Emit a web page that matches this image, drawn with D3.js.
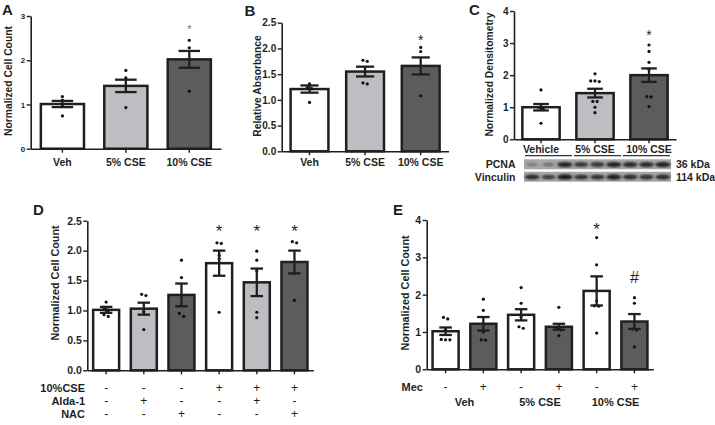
<!DOCTYPE html>
<html><head><meta charset="utf-8">
<script src="https://cdn.jsdelivr.net/npm/d3@7"></script>
<style>body{margin:0;background:#fff}svg{display:block}text{font-family:"Liberation Sans",Arial,sans-serif}</style>
</head><body><svg id="c" width="715" height="425"></svg>
<script>
// ---------- DATA ----------
// Panel A
const aCats = ["Veh", "5% CSE", "10% CSE"];
const aMeans = [1.01, 1.42, 2.02];
const aSems = [0.07, 0.14, 0.19];
const aPoints = [[1.18, 1.10, 0.99, 0.74], [1.77, 1.60, 0.93], [2.45, 2.28, 1.30]];
const aMarks = ["", "", "*"];
const aMarkLevels = [null, null, 2.77];
const aTicks = [0, 1, 2, 3];
// Panel B
const bCats = ["Veh", "5% CSE", "10% CSE"];
const bMeans = [1.21, 1.55, 1.66];
const bSems = [0.07, 0.095, 0.165];
const bPoints = [[1.31, 1.24, 1.22, 0.95], [1.77, 1.75, 1.33, 1.31], [2.02, 1.94, 1.08]];
const bMarks = ["", "", "*"];
const bMarkLevels = [null, null, 2.23];
const bTicks = [0, 0.5, 1, 1.5, 2, 2.5];
// Panel C
const cCats = ["Vehicle", "5% CSE", "10% CSE"];
const cMeans = [1.00, 1.44, 2.00];
const cSems = [0.10, 0.135, 0.21];
const cPoints = [[1.54, 1.00, 0.96, 0.50], [2.04, 1.82, 1.82, 1.80, 1.18, 1.18, 1.00, 0.83], [2.94, 2.74, 2.40, 2.18, 1.33, 1.32, 1.02]];
const cMarks = ["", "", "*"];
const cMarkLevels = [null, null, 3.34];
const cTicks = [0, 1, 2, 3, 4];
const blotRows = ["PCNA", "Vinculin"];
const blotSizes = ["36 kDa", "114 kDa"];
const pcnaBands = [0.30, 0.38, 0.90, 0.78, 0.78, 0.92, 0.85, 0.85, 0.92];
const vinculinBands = [0.85, 0.72, 0.95, 0.80, 0.80, 0.90, 0.86, 0.80, 0.86];
// Panel D
const dMeans = [1.01, 1.03, 1.26, 1.79, 1.47, 1.81];
const dSems = [0.05, 0.10, 0.19, 0.21, 0.23, 0.19];
const dPoints = [[1.14, 1.05, 1.00, 0.93, 0.90], [1.27, 1.25, 0.98, 0.68], [1.84, 1.55, 0.95, 0.90], [2.13, 2.12, 1.92, 1.86, 0.97], [1.99, 1.84, 1.66, 0.97, 0.88], [2.15, 2.13, 1.62, 1.17]];
const dMarks = ["", "", "", "*", "*", "*"];
const dMarkLevels = [null, null, null, 2.40, 2.40, 2.40];
const dTicks = [0, 0.5, 1, 1.5, 2, 2.5];
const dRowLabels = ["10%CSE", "Alda-1", "NAC"];
const dCSE = ["-", "-", "-", "+", "+", "+"];
const dAlda = ["-", "+", "-", "-", "+", "-"];
const dNAC = ["-", "-", "+", "-", "-", "+"];
// Panel E
const eMeans = [1.02, 1.22, 1.46, 1.14, 2.10, 1.28];
const eSems = [0.10, 0.18, 0.15, 0.08, 0.39, 0.20];
const ePoints = [[1.39, 1.35, 1.05, 0.80, 0.79, 0.79], [1.88, 1.58, 1.00, 0.79, 0.78], [2.19, 1.77, 1.40, 1.14, 1.10], [1.66, 1.12, 1.05, 0.90], [3.53, 2.80, 1.83, 1.70, 1.69, 0.97], [1.92, 1.77, 1.08, 1.05, 0.60]];
const eMarks = ["", "", "", "", "*", "#"];
const eMarkLevels = [null, null, null, null, 3.87, 2.48];
const eTicks = [0, 1, 2, 3, 4];
const eMec = ["-", "+", "-", "+", "-", "+"];
const eGroups = ["Veh", "5% CSE", "10% CSE"];

// ---------- STYLE ----------
const INK = "#1f1f1f";
const WHITE = "#ffffff", LIGHT = "#bdbec2", DARK = "#5c5c5c";
const FONT = '"Liberation Sans", Arial, sans-serif';
const svg = d3.select("#c");

function clusterJitter(vals, y, cx, step) {
  const pts = vals.map(v => ({ v, py: y(v) })).sort((a, b) => a.py - b.py);
  const clusters = [];
  pts.forEach(p => {
    const last = clusters[clusters.length - 1];
    if (last && p.py - last[last.length - 1].py < 3.2) last.push(p); else clusters.push([p]);
  });
  const out = [];
  clusters.forEach(c => c.forEach((p, i) => out.push([cx + (i - (c.length - 1) / 2) * step, p.py])));
  return out;
}

function drawPanel(o) {
  const g = svg.append("g");
  const n = o.means.length;
  const y = d3.scaleLinear().domain(o.yDomain).range([o.yBottom, o.yTop]);
  const x = d3.scaleBand().domain(d3.range(n)).range([o.xLeft, o.xRight]).paddingInner(o.pad).paddingOuter(o.pad / 2);
  // y axis
  const ya = g.append("g").attr("transform", `translate(${o.xLeft},0)`)
    .call(d3.axisLeft(y).tickValues(o.ticks).tickFormat(o.fmt).tickSize(4).tickSizeOuter(0).tickPadding(1.5));
  ya.attr("font-family", FONT).attr("font-size", o.tickFs);
  ya.select(".domain").attr("stroke", INK).attr("stroke-width", 1.6);
  ya.selectAll(".tick line").attr("stroke", INK).attr("stroke-width", 1.4);
  ya.selectAll(".tick text").attr("fill", INK).attr("font-weight", "bold");
  // x axis
  const xa = g.append("g").attr("transform", `translate(0,${o.yBottom})`)
    .call(d3.axisBottom(x).tickSize(4).tickSizeOuter(0).tickFormat(""));
  xa.select(".domain").attr("stroke", INK).attr("stroke-width", 1.6);
  xa.selectAll(".tick line").attr("stroke", INK).attr("stroke-width", 1.4);
  // bars
  const bw = x.bandwidth();
  g.selectAll("rect.bar").data(o.means).join("rect").attr("class", "bar")
    .attr("x", (d, i) => x(i)).attr("width", bw)
    .attr("y", d => y(d)).attr("height", d => y(0) - y(d))
    .attr("fill", (d, i) => o.fills[i]).attr("stroke", INK).attr("stroke-width", 2.5);
  // points
  o.points.forEach((arr, i) => {
    const cx = x(i) + bw / 2;
    g.selectAll(null).data(clusterJitter(arr, y, cx, 4.3)).join("circle")
      .attr("cx", d => d[0]).attr("cy", d => d[1]).attr("r", 1.6).attr("fill", "#111");
  });
  // error bars
  const cap = bw * o.capFrac / 2;
  o.means.forEach((m, i) => {
    const cx = x(i) + bw / 2, s = o.sems[i];
    const eg = g.append("g").attr("stroke", INK).attr("stroke-width", 2.3);
    eg.append("line").attr("x1", cx).attr("x2", cx).attr("y1", y(m - s)).attr("y2", y(m + s));
    eg.append("line").attr("x1", cx - cap).attr("x2", cx + cap).attr("y1", y(m + s)).attr("y2", y(m + s));
    eg.append("line").attr("x1", cx - cap).attr("x2", cx + cap).attr("y1", y(m - s)).attr("y2", y(m - s));
  });
  // significance marks
  o.marks.forEach((mk, i) => {
    if (!mk) return;
    const fs = mk === "#" ? o.markFs * 0.95 : o.markFs;
    const off = mk === "#" ? 0.36 : 0.58;
    g.append("text").attr("x", x(i) + bw / 2).attr("y", y(o.markLevels[i]) + off * fs)
      .attr("text-anchor", "middle").attr("font-size", fs).attr("fill", o.markColor || INK).text(mk);
  });
  // category labels
  if (o.cats) {
    g.selectAll(null).data(o.cats).join("text")
      .attr("x", (d, i) => x(i) + bw / 2).attr("y", o.catY)
      .attr("text-anchor", "middle").attr("font-size", 10.5).attr("font-weight", "bold").attr("fill", INK).text(d => d);
  }
  // y title
  g.append("text").attr("transform", `translate(${o.titleX},${o.titleY}) rotate(-90)`)
    .attr("text-anchor", "middle").attr("dominant-baseline", "central")
    .attr("font-size", o.titleFs).attr("font-weight", "bold").attr("fill", INK).text(o.title);
  // panel letter
  g.append("text").attr("x", o.letterX).attr("y", o.letterY)
    .attr("font-size", 15).attr("font-weight", "bold").attr("fill", INK).text(o.letter);
  return { g, x, y, bw };
}

// Panel A
drawPanel({ means: aMeans, sems: aSems, points: aPoints, marks: aMarks, markLevels: aMarkLevels, cats: aCats,
  fills: [WHITE, LIGHT, DARK], yDomain: [0, 3], ticks: aTicks, fmt: d3.format("d"), tickFs: 8,
  xLeft: 30.7, xRight: 221, yBottom: 148.7, yTop: 16, pad: 0.32, capFrac: 0.5, catY: 166,
  markFs: 11, markColor: "#777", title: "Normalized Cell Count", titleX: 8.5, titleY: 81, titleFs: 10.3,
  letter: "A", letterX: 2, letterY: 15 });

// Panel B
drawPanel({ means: bMeans, sems: bSems, points: bPoints, marks: bMarks, markLevels: bMarkLevels, cats: bCats,
  fills: [WHITE, LIGHT, DARK], yDomain: [0, 2.5], ticks: bTicks, fmt: d3.format(".1f"), tickFs: 10,
  xLeft: 281.7, xRight: 448.5, yBottom: 151.3, yTop: 22.7, pad: 0.32, capFrac: 0.48, catY: 166,
  markFs: 14, title: "Relative Absorbance", titleX: 257, titleY: 86, titleFs: 10.3,
  letter: "B", letterX: 244.5, letterY: 15.5 });

// Panel C
const pc = drawPanel({ means: cMeans, sems: cSems, points: cPoints, marks: cMarks, markLevels: cMarkLevels, cats: cCats,
  fills: [WHITE, LIGHT, DARK], yDomain: [0, 4], ticks: cTicks, fmt: d3.format("d"), tickFs: 10,
  xLeft: 514, xRight: 676, yBottom: 139.3, yTop: 11, pad: 0.31, capFrac: 0.42, catY: 153.3,
  markFs: 14, title: "Normalized Densitometry", titleX: 489.5, titleY: 74.5, titleFs: 10.3,
  letter: "C", letterX: 469, letterY: 15 });

// Western blot for C
(function () {
  const g = svg.append("g");
  const lanes = d3.scaleBand().domain(d3.range(pcnaBands.length)).range([524, 671]).paddingInner(0.08).paddingOuter(0.04);
  const groups = d3.scaleBand().domain(d3.range(cCats.length)).range([524, 671]);
  const rows = d3.scaleBand().domain(blotRows).range([159.3, 181.7]).paddingInner(0.2);
  const defs = svg.append("defs");
  defs.append("filter").attr("id", "blur").append("feGaussianBlur").attr("stdDeviation", 0.8);
  const shade = d3.interpolateRgb("#a9a9a9", "#141414");
  [pcnaBands, vinculinBands].forEach((vals, r) => {
    const name = blotRows[r];
    const ry = rows(name), rh = rows.bandwidth();
    g.append("rect").attr("x", 524).attr("y", ry).attr("width", 147).attr("height", rh).attr("fill", "#a6a6a6");
    g.selectAll(null).data(vals).join("ellipse")
      .attr("cx", (d, i) => lanes(i) + lanes.bandwidth() / 2).attr("cy", ry + rh / 2 + 0.3)
      .attr("rx", d => lanes.bandwidth() / 2 * (0.6 + 0.45 * d)).attr("ry", d => 1.3 + 1.5 * d)
      .attr("fill", d => shade(d)).attr("filter", "url(#blur)");
    g.append("text").attr("x", 515.5).attr("y", ry + rh / 2).attr("dy", "0.36em").attr("text-anchor", "end")
      .attr("font-size", 10.5).attr("font-weight", "bold").attr("fill", INK).text(name);
    g.append("text").attr("x", 676).attr("y", ry + rh / 2).attr("dy", "0.36em")
      .attr("font-size", 10.5).attr("font-weight", "bold").attr("fill", INK).text(blotSizes[r]);
  });
  // underlines under group labels
  g.selectAll(null).data(cCats).join("line")
    .attr("x1", (d, i) => groups(i) + 1).attr("x2", (d, i) => groups(i) + groups.bandwidth() - 1)
    .attr("y1", 155.7).attr("y2", 155.7).attr("stroke", "#333").attr("stroke-width", 1.2);
})();

// Panel D
const pd = drawPanel({ means: dMeans, sems: dSems, points: dPoints, marks: dMarks, markLevels: dMarkLevels,
  fills: [WHITE, LIGHT, DARK, WHITE, LIGHT, DARK], yDomain: [0, 2.5], ticks: dTicks, fmt: d3.format(".1f"), tickFs: 10.5,
  xLeft: 87.3, xRight: 313.3, yBottom: 370.3, yTop: 220.7, pad: 0.31, capFrac: 0.48,
  markFs: 17, title: "Normalized Cell Count", titleX: 55, titleY: 283, titleFs: 10.8,
  letter: "D", letterX: 33, letterY: 215 });
[dCSE, dAlda, dNAC].forEach((row, r) => {
  const by = 392 + r * 12.9;
  svg.append("text").attr("x", 85).attr("y", by).attr("text-anchor", "end")
    .attr("font-size", 11).attr("font-weight", "bold").attr("fill", INK).text(dRowLabels[r]);
  svg.selectAll(null).data(row).join("text")
    .attr("x", (d, i) => pd.x(i) + pd.bw / 2).attr("y", by).attr("text-anchor", "middle")
    .attr("font-size", 12).attr("fill", INK).text(d => d);
});

// Panel E
const pe = drawPanel({ means: eMeans, sems: eSems, points: ePoints, marks: eMarks, markLevels: eMarkLevels,
  fills: [WHITE, DARK, WHITE, DARK, WHITE, DARK], yDomain: [0, 4], ticks: eTicks, fmt: d3.format("d"), tickFs: 10.5,
  xLeft: 426.7, xRight: 653.3, yBottom: 369.3, yTop: 220, pad: 0.31, capFrac: 0.48,
  markFs: 17, title: "Normalized Cell Count", titleX: 405, titleY: 293, titleFs: 10.8,
  letter: "E", letterX: 393, letterY: 214.5 });
svg.append("text").attr("x", 423).attr("y", 391).attr("text-anchor", "end")
  .attr("font-size", 11).attr("font-weight", "bold").attr("fill", INK).text("Mec");
svg.selectAll(null).data(eMec).join("text")
  .attr("x", (d, i) => pe.x(i) + pe.bw / 2).attr("y", 391).attr("text-anchor", "middle")
  .attr("font-size", 12).attr("fill", INK).text(d => d);
svg.selectAll(null).data(eGroups).join("text")
  .attr("x", (d, i) => (pe.x(2 * i) + pe.x(2 * i + 1) + pe.bw) / 2).attr("y", 405.5).attr("text-anchor", "middle")
  .attr("font-size", 11).attr("font-weight", "bold").attr("fill", INK).text(d => d);
</script></body></html>
